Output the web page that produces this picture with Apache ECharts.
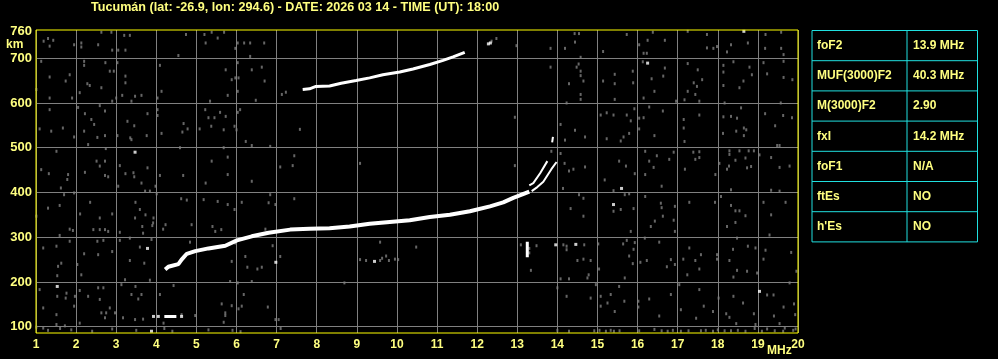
<!DOCTYPE html>
<html><head><meta charset="utf-8">
<script src="https://cdn.jsdelivr.net/npm/echarts@6/dist/echarts.min.js"></script>
<style>html,body{margin:0;padding:0;background:#000;}#c{width:998px;height:359px;}</style>
</head><body><div id="c"></div>
<script>
const titleText = 'Tucumán (lat: -26.9, lon: 294.6) - DATE: 2026 03 14 - TIME (UT): 18:00';
const heightLabels = [100, 200, 300, 400, 500, 600, 700, 760];
const heightGrid = [100, 200, 300, 400, 500, 600, 700];
const tableNames = ['foF2', 'MUF(3000)F2', 'M(3000)F2', 'fxI', 'foF1', 'ftEs', "h'Es"];
const tableValues = ['13.9 MHz', '40.3 MHz', '2.90', '14.2 MHz', 'N/A', 'NO', 'NO'];

// F-layer main trace [MHz, km]
const traceF = [[4.22,228],[4.3,234],[4.55,240],[4.63,250],[4.76,263],[4.97,269],[5.3,275],[5.72,281],[6.01,293],[6.38,302],[6.8,310],[7.34,317],[7.82,319],[8.32,320],[8.82,324],[9.32,330],[9.82,334],[10.32,338],[10.82,345],[11.32,350],[11.82,358],[12.32,369],[12.65,378],[12.9,388],[13.11,395],[13.19,398],[13.3,402]];
// ordinary branch near critical frequency
const traceO = [[13.3,416],[13.4,421],[13.57,443],[13.75,470]];
const traceOTop = [[13.87,512],[13.89,524]];
// extraordinary branch
const traceX = [[13.36,403],[13.5,412],[13.65,424],[13.85,452],[13.98,468]];
// second hop trace
const trace2F = [[7.65,630],[7.82,631.5],[7.98,637],[8.32,638],[8.61,644],[8.98,650],[9.32,656],[9.65,663],[10.07,669],[10.4,676],[10.82,686],[11.15,695],[11.4,703],[11.69,713]];
// low echo near 120 km
const traceE = [[4.2,123],[4.5,123]];
// spread bar near 13.25 MHz
const barEcho = [[13.25,255],[13.25,290]];
// isolated white specks
const specks = [[3.47,490],[3.78,275],[1.53,190],[6.98,244],[16.25,689],[15.4,373],[15.6,409],[13.96,283],[14.46,284],[19.04,179],[18.65,760],[12.28,732],[12.33,734],[9.44,246],[3.93,123],[4.63,123],[3.88,90],[4.05,123]];
// grey noise dots
const noise = [
[1.30,744],[1.19,738],[1.34,727],[1.43,740],[1.95,730],[2.13,734],[2.13,725],[2.55,730],[2.63,758],[2.88,758],[2.90,718],[3.05,718],[3.20,751],[3.34,751],[3.23,718],[4.55,706],[4.74,753],[5.2,753],[5.38,758],[5.53,745],[5.23,734],[5.69,758],[6.03,734],[6.19,734],[6.34,734],[6.69,734],[6.34,704],[5.97,722],
[1.13,693],[1.34,658],[1.84,663],[1.74,649],[2.2,693],[2.2,684],[2.28,643],[2.34,639],[2.09,623],[1.9,611],[2.63,634],[2.73,690],[2.84,671],[2.94,671],[3.03,690],[3.23,660],[3.23,645],[3.15,617],[3.0,611],[2.9,604],[3.38,604],[3.47,615],[3.63,617],[4.09,684],[4.13,626],[4.03,611],[1.01,630],[1.34,611],[5.34,604],[5.73,674],[5.88,652],[5.97,656],[6.05,656],[6.03,690],[6.38,674],[6.63,680],[6.7,649],[6.03,626],[5.78,617],[6.48,606],[7.13,619],[7.23,624],
[1.34,585],[1.09,542],[1.38,537],[1.67,544],[1.95,524],[2.05,590],[2.22,576],[2.38,563],[2.45,552],[2.2,537],[2.3,507],[2.59,594],[2.72,582],[2.53,523],[2.72,527],[3.03,527],[3.28,559],[3.45,549],[3.35,522],[3.38,518],[3.76,527],[3.78,576],[4.03,585],[4.03,572],[4.13,532],[4.65,535],[4.78,542],[4.68,554],[5.08,542],[5.22,585],[5.3,567],[5.45,567],[5.59,579],[5.73,570],[5.68,540],[5.37,548],[6.03,579],[6.09,585],[5.95,548],[6.0,540],[6.23,514],[6.38,505],
[1.51,492],[1.13,451],[1.32,442],[1.8,440],[1.78,429],[1.62,410],[2.22,445],[2.51,470],[2.72,470],[2.59,459],[2.72,438],[2.8,435],[2.74,498],[3.09,460],[3.05,414],[3.23,442],[3.43,444],[3.45,435],[3.63,421],[3.78,455],[3.98,414],[4.09,438],[3.72,403],[3.84,403],[4.01,397],[4.67,438],[4.59,500],[5.23,421],[5.38,470],[5.78,479],[5.78,440],[6.38,425],[6.84,503],[7.09,457],[5.68,500],
[1.01,347],[1.3,365],[1.59,371],[1.7,395],[1.95,399],[1.59,304],[1.84,318],[1.92,315],[2.1,352],[2.35,378],[2.43,317],[2.59,343],[2.59,317],[2.72,317],[2.8,313],[2.9,352],[3.09,311],[3.34,298],[3.48,378],[3.47,343],[3.59,362],[3.65,324],[3.67,309],[3.73,350],[3.9,326],[3.93,343],[3.92,332],[4.17,318],[4.23,328],[4.62,386],[4.76,383],[4.88,328],[5.18,384],[5.4,324],[5.47,313],[5.53,380],[5.62,317],[5.78,373],[5.95,362],[6.13,378],[6.8,377],[6.84,395],[6.97,373],[6.72,318],
[1.18,276],[1.51,280],[1.63,242],[1.55,235],[1.53,214],[1.84,291],[2.03,239],[2.13,216],[2.2,263],[2.53,291],[2.68,293],[2.55,261],[2.9,268],[3.09,293],[3.34,248],[3.59,278],[3.7,242],[3.84,204],[3.88,295],[5.97,287],[5.88,246],[6.22,257],[6.27,233],[6.52,229],[6.63,233],[6.9,281],[7.09,257],[3.22,205],[4.84,289],[5.84,201],
[1.09,183],[1.53,168],[1.76,175],[1.97,168],[1.18,142],[1.51,127],[1.74,164],[1.95,146],[2.09,181],[2.3,168],[2.55,187],[2.68,187],[2.59,161],[2.63,131],[2.75,131],[2.97,131],[2.72,120],[2.84,142],[3.17,120],[3.13,194],[3.38,172],[3.48,190],[3.55,162],[3.63,172],[3.47,116],[3.67,117],[4.09,172],[4.18,108],[4.43,192],[4.63,127],[4.97,125],[5.3,93],[5.63,151],[5.72,131],[5.88,147],[6.05,140],[6.13,146],[6.03,198],[6.18,172],[6.38,201],[6.78,144],[6.97,116],[7.05,116],[5.68,110],[5.72,125],[1.51,105],[1.72,102],[1.18,97],[1.01,99],[2.09,108],[1.88,93],[1.3,92],[1.6,96],[2.4,90],[2.9,95],[3.5,92],[4.2,96],[4.4,90],[5.9,92],[6.1,89],[7.1,96],
[7.58,541],[7.44,482],[7.4,460],[9.08,465],[7.44,386],[12.94,568],[12.94,460],[12.98,728],[9.58,289],[10.48,278],[8.69,198],[13.34,226],[13.48,281],[13.09,283],[9.08,250],[9.23,248],[9.58,248],[9.63,253],[9.73,258],[9.8,248],[9.95,251],[10.03,250],[12.36,738],[12.48,744],[13.3,275],[13.3,265],
[14.43,755],[14.54,755],[14.44,736],[14.19,722],[13.83,722],[14.58,702],[15.14,715],[15.73,753],[16.04,730],[16.15,711],[16.23,711],[16.25,740],[16.38,758],[16.68,740],[17.25,760],[17.73,753],[17.73,723],[17.89,722],[17.98,726],[18.23,714],[18.33,730],[18.75,734],[19.19,753],[19.18,722],[19.58,758],[19.58,722],[19.64,708],
[13.83,680],[14.53,687],[14.48,680],[14.58,671],[14.58,661],[14.65,649],[14.29,643],[14.58,619],[14.58,608],[15.14,649],[15.43,664],[15.43,643],[15.43,608],[15.88,671],[15.89,645],[16.13,692],[16.68,678],[16.64,660],[16.35,654],[16.42,626],[16.15,611],[16.96,604],[17.17,607],[17.25,688],[17.25,626],[17.4,645],[17.48,637],[17.61,652],[17.5,674],[17.44,619],[17.54,604],[18.14,684],[18.39,692],[18.14,669],[18.14,639],[18.64,649],[18.54,634],[18.79,680],[18.85,663],[19.14,690],[19.23,665],[19.64,693],[19.64,657],[19.86,652],
[14.23,600],[14.08,552],[14.44,539],[14.19,517],[14.69,524],[15.08,573],[15.23,578],[15.4,573],[15.73,573],[15.83,560],[15.92,587],[15.23,520],[15.65,524],[15.58,515],[15.79,532],[16.04,566],[16.15,567],[16.04,542],[16.29,591],[16.63,582],[16.42,527],[17.15,563],[17.15,544],[17.17,514],[17.54,573],[18.17,600],[18.14,569],[18.33,570],[18.48,566],[18.65,544],[18.71,540],[18.58,589],[18.46,537],[18.13,532],[18.65,527],[19.18,576],[19.43,549],[19.63,572],[19.85,567],[19.57,600],[19.48,505],[19.54,505],
[13.85,492],[14.08,487],[14.18,465],[14.4,452],[14.29,448],[14.69,457],[14.14,409],[14.54,395],[14.65,387],[15.18,428],[15.4,404],[15.54,470],[15.71,459],[15.93,442],[15.79,397],[16.19,440],[16.19,492],[16.29,470],[16.4,456],[16.48,482],[16.6,414],[16.79,474],[16.9,490],[17.18,452],[17.39,490],[17.44,474],[17.54,478],[17.54,491],[17.94,440],[18.04,465],[18.28,459],[18.29,485],[18.44,472],[18.23,452],[18.29,493],[18.54,493],[18.69,477],[18.73,455],[18.83,458],[18.77,493],[18.9,493],[19.04,484],[19.33,478],[19.54,456],[19.79,459],[18.33,406],[19.33,405],[19.54,403],
[14.33,364],[14.65,347],[15.4,358],[15.58,362],[15.68,395],[15.9,364],[15.83,313],[16.19,391],[16.58,376],[16.6,366],[16.93,369],[16.9,338],[16.93,313],[16.63,347],[16.43,336],[16.33,324],[17.29,378],[17.93,378],[18.08,391],[18.33,371],[18.44,359],[18.54,359],[18.69,348],[18.23,324],[18.44,333],[18.48,298],[19.14,378],[19.33,350],[19.69,378],[19.29,305],[16.18,298],
[14.15,283],[14.23,280],[14.23,272],[14.67,283],[15.02,285],[14.5,248],[14.65,251],[14.83,248],[14.78,216],[14.75,209],[14.08,207],[14.29,207],[15.04,229],[15.64,285],[15.73,293],[15.9,273],[15.93,288],[15.79,258],[15.88,241],[16.07,244],[15.68,209],[16.23,248],[16.54,289],[16.83,250],[16.73,234],[16.93,239],[17.14,251],[17.29,276],[17.44,248],[17.54,229],[17.24,216],[17.58,261],[17.98,261],[17.98,251],[18.29,248],[18.38,273],[18.48,226],[18.39,211],[18.73,224],[18.75,280],[18.94,276],[18.98,220],[19.19,271],[19.14,251],[19.83,266],[19.96,224],
[14.0,187],[14.23,168],[14.83,164],[14.96,194],[15.08,168],[15.08,146],[15.25,153],[15.33,172],[15.54,190],[15.43,134],[15.67,157],[16.02,157],[16.02,144],[16.29,162],[16.54,124],[16.83,172],[17.04,194],[17.08,138],[17.46,119],[17.54,183],[17.65,146],[17.88,134],[18.02,164],[18.21,129],[18.29,121],[18.39,168],[18.46,107],[18.63,153],[18.9,129],[19.23,171],[19.39,171],[19.79,198],[19.64,144],[19.9,151],[19.93,127],[19.4,124],[19.54,107],[19.67,97],[18.94,105],
[14.0,92],[14.29,90],[14.92,91],[15.21,90],[15.33,92],[15.41,90],[16.04,91],[16.42,94],[16.75,90],[16.88,92],[17.08,90],[17.27,91],[17.58,91],[17.88,90],[18.0,93],[18.17,91],[18.33,91],[18.69,90],[18.92,96],[19.23,95],[19.42,91],[19.63,90],[19.88,92],[19.94,95],[15.05,92],[15.55,91],[16.6,91],[17.7,92],[18.5,92],[19.1,90]
];

const chart = echarts.init(document.getElementById('c'), null, {renderer: 'canvas'});
const yellow = '#ffff80';
const font = '"Liberation Sans", Arial, sans-serif';
const white = {color: '#ffffff'};
function traceSeries(data, w) {
  return {type: 'line', data: data, showSymbol: false, symbol: 'none', z: 5,
    lineStyle: {color: '#ffffff', width: w}, silent: true, animation: false};
}
const tX = 812, tY = 30.5, tW = 165.5, colX = 907, rowH = 30.2;
const graphics = [
  {type: 'text', left: 91, top: 1, style: {text: titleText, fill: yellow, font: 'bold 12.6px ' + font}},
  {type: 'text', left: 6, top: 39, style: {text: 'km', fill: yellow, font: 'bold 12px ' + font}},
  {type: 'text', left: 767, top: 345, style: {text: 'MHz', fill: yellow, font: 'bold 12px ' + font}},
  {type: 'rect', shape: {x: tX, y: tY, width: tW, height: rowH * 7}, style: {fill: null, stroke: '#20e0e0', lineWidth: 1}},
  {type: 'line', shape: {x1: colX, y1: tY, x2: colX, y2: tY + rowH * 7}, style: {stroke: '#20e0e0', lineWidth: 1}}
];
for (let i = 1; i < 7; i++) {
  graphics.push({type: 'line', shape: {x1: tX, y1: tY + rowH * i, x2: tX + tW, y2: tY + rowH * i}, style: {stroke: '#20e0e0', lineWidth: 1}});
}
tableNames.forEach((n, i) => {
  const cy = tY + rowH * i + rowH / 2;
  graphics.push({type: 'text', x: 817, y: cy, style: {text: n, fill: yellow, font: 'bold 12px ' + font, verticalAlign: 'middle'}});
  graphics.push({type: 'text', x: 913, y: cy, style: {text: tableValues[i], fill: yellow, font: 'bold 12px ' + font, verticalAlign: 'middle'}});
});

chart.setOption({
  backgroundColor: '#000000',
  animation: false,
  grid: {left: 36, right: 200, top: 30, bottom: 26, show: true, borderColor: '#ffff00', borderWidth: 1, backgroundColor: 'transparent', z: 10},
  xAxis: {type: 'value', min: 1, max: 20, interval: 1,
    axisLine: {show: false}, axisTick: {show: false},
    axisLabel: {color: yellow, fontWeight: 'bold', fontSize: 12, fontFamily: font, margin: 6,
      formatter: v => String(v)},
    splitLine: {show: true, lineStyle: {color: '#808080', width: 1}}},
  yAxis: {type: 'value', min: 86, max: 763,
    axisLine: {show: false}, axisTick: {show: false, customValues: heightLabels},
    axisLabel: {color: yellow, fontWeight: 'bold', fontSize: 13, fontFamily: font, margin: 4, customValues: heightLabels},
    splitLine: {show: false}},
  graphic: graphics,
  series: [
    {type: 'scatter', data: noise, symbol: 'rect', symbolSize: [2, 3], itemStyle: {color: '#808080'}, z: 3, silent: true,
      markLine: {silent: true, symbol: 'none', label: {show: false}, animation: false,
        lineStyle: {color: '#808080', width: 1, type: 'solid'},
        data: heightGrid.map(v => ({yAxis: v}))}},
    {type: 'scatter', data: specks, symbol: 'rect', symbolSize: [3, 3], itemStyle: white, z: 4, silent: true},
    traceSeries(traceF, 4),
    traceSeries(traceO, 2),
    traceSeries(traceOTop, 2),
    traceSeries(traceX, 2),
    traceSeries(trace2F, 3),
    traceSeries(traceE, 3),
    traceSeries(barEcho, 3)
  ]
});
</script></body></html>
